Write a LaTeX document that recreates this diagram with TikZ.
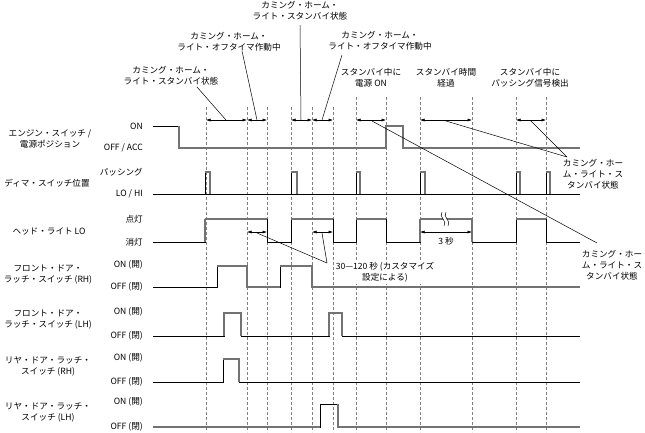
\documentclass[tikz,border=0pt]{standalone}
\usepackage{fontspec}
\setmainfont{Noto Sans CJK JP}
\usetikzlibrary{arrows.meta, positioning}

\begin{document}
\begin{tikzpicture}[
  x=1pt, y=-1pt,
  txt/.style={font=\fontsize{8.6}{11}\selectfont, align=center, inner sep=0pt},
  lvl/.style={txt, anchor=east},
  grid/.style={gray, line width=0.5pt, dash pattern=on 3pt off 2pt},
  sig/.style={line width=0.7pt},
  hi/.style={line width=1.5pt, black!55},
  dim/.style={{Latex[length=4.5pt,width=3pt]}-{Latex[length=4.5pt,width=3pt]}, line width=0.5pt},
  lead/.style={line width=0.5pt}
]
\useasboundingbox (0,0) rectangle (645,432);

\foreach \x in {206,247,267,291,312,333}
  \draw[grid] (\x,107) -- (\x,432);
\foreach \x in {356,386,420,472,516,546}
  \draw[grid] (\x,97) -- (\x,432);

\node[txt] (engine) at (50,139) {エンジン・スイッチ /\\電源ポジション};
\node[txt] (dimmer) at (47,183) {ディマ・スイッチ位置};
\node[txt] (head) at (49,231) {ヘッド・ライト LO};
\node[txt] (frontrh) at (48,275) {フロント・ドア・\\ラッチ・スイッチ (RH)};
\node[txt] (frontlh) at (48,320) {フロント・ドア・\\ラッチ・スイッチ (LH)};
\node[txt] (rearrh) at (48,366) {リヤ・ドア・ラッチ・\\スイッチ (RH)};
\node[txt] (rearlh) at (48,412) {リヤ・ドア・ラッチ・\\スイッチ (LH)};

\node[lvl] (engon) at (143,126) {ON};
\node[lvl] (engoff) at (143,148) {OFF / ACC};
\node[lvl] (dimpass) at (143,172) {パッシング};
\node[lvl] (dimlo) at (143,194) {LO / HI};
\node[lvl] (headon) at (143,219) {点灯};
\node[lvl] (headoff) at (143,242) {消灯};
\node[lvl] (frhon) at (143,265) {ON (開)};
\node[lvl] (frhoff) at (143,287) {OFF (閉)};
\node[lvl] (flhon) at (143,312) {ON (開)};
\node[lvl] (flhoff) at (143,336) {OFF (閉)};
\node[lvl] (rrhon) at (143,358) {ON (開)};
\node[lvl] (rrhoff) at (143,382) {OFF (閉)};
\node[lvl] (rlhon) at (143,402) {ON (開)};
\node[lvl] (rlhoff) at (143,427) {OFF (閉)};

\draw[sig] (153,126) -- (179,126) -- (179,148) -- (386,148) -- (386,126) -- (403,126) -- (403,148) -- (580,148);
\draw[hi] (179,126) -- (179,148) -- (386,148) -- (386,126) -- (403,126) -- (403,148) -- (580,148);

\draw[sig] (153,194) -- (580,194);
\foreach \a/\b in {205/210,291/297,356/360,420/425,516/520,546/550} {
  \draw[sig] (\a,194) -- (\a,172) -- (\b,172) -- (\b,194);
  \draw[hi] (\a,172) -- (\b,172) -- (\b,194);
}

\draw[sig] (153,242) -- (205,242) -- (205,219) -- (267,219) -- (267,242) -- (291,242) -- (291,219) -- (333,219) -- (333,242) -- (356,242) -- (356,219) -- (386,219) -- (386,242) -- (420,242) -- (420,219) -- (472,219) -- (472,242) -- (516,242) -- (516,219) -- (546,219) -- (546,242) -- (580,242);
\foreach \a/\b in {205/267,291/333,356/386,420/472,516/546}
  \draw[hi] (\a,219) -- (\b,219);
\draw[hi] (205,242) -- (205,219);
\draw[hi] (420,242) -- (420,219) (472,219) -- (472,242);
\draw[white, line width=3pt] (444,212) .. controls (440,217) and (450,221) .. (446,226);
\draw[line width=0.5pt] (442,212) .. controls (438,217) and (448,221) .. (444,226);
\draw[line width=0.5pt] (446,212) .. controls (442,217) and (452,221) .. (448,226);

\draw[sig] (153,287) -- (217,287) -- (217,266) -- (247,266) -- (247,287) -- (280,287) -- (280,266) -- (312,266) -- (312,287) -- (580,287);
\draw[hi] (217,266) -- (247,266) -- (247,287) -- (280,287);
\draw[hi] (280,266) -- (312,266) -- (312,287) -- (580,287);

\draw[sig] (153,336) -- (224,336) -- (224,313) -- (241,313) -- (241,336) -- (329,336) -- (329,313) -- (342,313) -- (342,336) -- (580,336);
\draw[hi] (224,336) -- (224,313) -- (241,313) -- (241,336);
\draw[hi] (329,336) -- (329,313) -- (342,313) -- (342,336);

\draw[sig] (153,382) -- (223,382) -- (223,359) -- (239,359) -- (239,382) -- (580,382);
\draw[hi] (223,359) -- (239,359) -- (239,382);

\draw[sig] (153,427) -- (320,427) -- (320,404) -- (338,404) -- (338,427) -- (580,427);
\draw[hi] (153,427) -- (320,427);
\draw[hi] (338,404) -- (338,427) -- (580,427);

\foreach \a/\b in {206/247,247/267,291/312,312/333,356/386,420/472,516/546}
  \draw[dim] (\a,120) -- (\b,120);
\foreach \a/\b in {247/267,312/333,420/472}
  \draw[dim] (\a,232) -- (\b,232);

\coordinate (m1) at (226,120);
\coordinate (m2) at (257,120);
\coordinate (m3) at (301,120);
\coordinate (m4) at (322,120);
\coordinate (m5) at (372,121);
\coordinate (m6) at (446,121);
\coordinate (m7) at (531,121);
\coordinate (d1) at (257,233);
\coordinate (d2) at (322,233);
\coordinate (j1) at (567,157);
\coordinate (j2) at (597,243);
\coordinate (j3) at (327,263);

\node[txt] (standby1) at (171,75.5) {カミング・ホーム・\\ライト・スタンバイ状態};
\node[txt] (offtimer1) at (229,41.5) {カミング・ホーム・\\ライト・オフタイマ作動中};
\node[txt] (standby2) at (300,10.5) {カミング・ホーム・\\ライト・スタンバイ状態};
\node[txt] (offtimer2) at (380,41) {カミング・ホーム・\\ライト・オフタイマ作動中};
\node[txt] (pwron) at (371,78) {スタンバイ中に\\電源 ON};
\node[txt] (timeout) at (446,78) {スタンバイ時間\\経過};
\node[txt] (passing) at (530,78) {スタンバイ中に\\パッシング信号検出};
\node[txt] (standby3) at (593,174) {カミング・ホー\\ム・ライト・ス\\タンバイ状態};
\node[txt] (standby4) at (612,265) {カミング・ホー\\ム・ライト・ス\\タンバイ状態};
\node[txt, fill=white, inner sep=1pt] (custom) at (385,272.5) {30—120 秒 (カスタマイズ\\設定による)};
\node[txt, fill=white, inner sep=1pt] (sec3) at (446,241) {3 秒};

\draw[lead] (197,87) -- (m1);
\draw[lead] (242,51) -- (m2);
\draw[lead] (standby2.south) ++(0,5) -- (m3);
\draw[lead] (342,55) -- (m4);
\draw[lead] (m5) -- (j2);
\draw[lead] (m6) -- (j1);
\draw[lead] (m7) -- (j1);
\draw[lead] (d1) -- (j3);
\draw[lead] (d2) -- (j3);
\end{tikzpicture}
\end{document}
